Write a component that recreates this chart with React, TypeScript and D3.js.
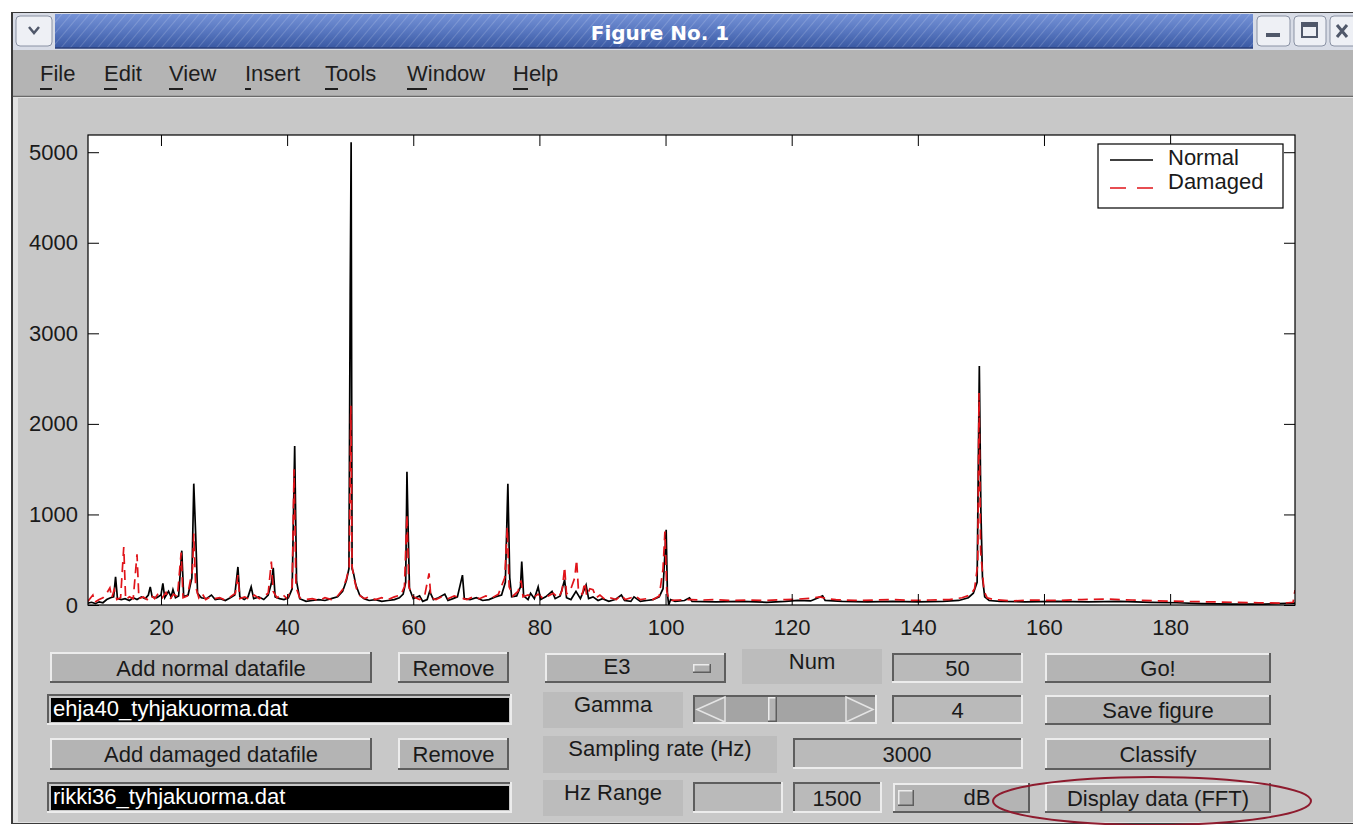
import { useEffect, useRef } from "react";
import * as d3 from "d3";

// ---- chart data ----
const seriesNames = ["Normal", "Damaged"];
const xTicks = [20, 40, 60, 80, 100, 120, 140, 160, 180];
const yTicks = [0, 1000, 2000, 3000, 4000, 5000];
const xDomain: [number, number] = [8.43, 199.8];
const yDomain: [number, number] = [0, 5190];

// [Hz, amplitude]
const normal: [number, number][] = [
  [8.4, 20], [9.0, 30], [9.6, 15], [10.2, 35], [10.8, 25], [11.4, 60], [12.0, 80], [12.5, 90],
  [12.8, 310], [13.1, 70], [13.7, 60], [14.3, 70], [15.0, 50], [15.6, 80], [16.2, 60], [16.9, 90],
  [17.5, 70], [18.0, 110], [18.3, 200], [18.6, 90], [19.3, 80], [20.0, 110], [20.3, 240], [20.6, 80],
  [21.2, 150], [21.6, 90], [21.9, 170], [22.3, 80], [22.8, 100], [23.3, 600], [23.6, 90], [24.3, 110],
  [24.9, 300], [25.2, 1340], [25.5, 780], [25.8, 130], [26.4, 80], [27.2, 70], [28.0, 110], [28.6, 60],
  [29.4, 70], [30.2, 50], [31.0, 80], [31.7, 110], [32.2, 420], [32.5, 90], [33.2, 60], [33.8, 90],
  [34.3, 200], [34.7, 70], [35.5, 90], [36.3, 60], [37.0, 110], [37.5, 240], [37.8, 410], [38.1, 90],
  [38.8, 70], [39.5, 60], [40.2, 80], [40.8, 180], [41.2, 1755], [41.5, 260], [42.0, 70], [43.0, 40],
  [44.0, 50], [45.0, 60], [46.0, 50], [47.0, 70], [48.0, 90], [48.8, 150], [49.4, 270], [49.8, 400],
  [50.0, 3420], [50.15, 5110], [50.3, 400], [50.5, 360], [50.9, 220], [51.5, 110], [52.2, 70], [53.0, 50],
  [54.0, 60], [55.0, 40], [56.0, 50], [57.0, 60], [57.8, 80], [58.4, 120], [58.8, 250], [59.0, 1470],
  [59.15, 960], [59.4, 180], [60.0, 70], [61.0, 100], [61.5, 40], [62.2, 60], [62.6, 150], [63.2, 60],
  [64.0, 80], [65.0, 120], [65.5, 50], [66.3, 70], [67.0, 90], [67.8, 330], [68.1, 70], [69.0, 60],
  [70.0, 80], [71.0, 50], [72.0, 60], [73.0, 90], [74.0, 110], [74.6, 250], [75.0, 1340], [75.3, 300],
  [75.6, 90], [76.4, 100], [77.0, 200], [77.2, 480], [77.5, 100], [78.2, 60], [78.6, 130], [79.2, 70],
  [79.8, 200], [80.2, 60], [81.0, 90], [82.0, 150], [82.5, 70], [83.3, 100], [84.0, 280], [84.3, 80],
  [85.0, 60], [85.8, 150], [86.5, 70], [87.4, 220], [87.8, 70], [88.5, 90], [89.3, 50], [90.0, 70],
  [91.0, 40], [92.0, 60], [93.0, 110], [93.5, 50], [94.5, 40], [95.0, 90], [96.0, 40], [97.0, 50],
  [98.0, 60], [99.0, 90], [99.6, 180], [100.1, 830], [100.3, 120], [100.5, 0], [100.8, 60], [101.5, 40],
  [103.0, 50], [103.8, 80], [104.2, 40], [108, 35], [112, 40], [116, 30], [119, 40], [121, 50],
  [123, 45], [124.9, 100], [125.3, 50], [128, 40], [132, 35], [136, 40], [140, 35], [144, 40],
  [146.5, 50], [148.0, 80], [148.8, 130], [149.4, 250], [149.75, 2640], [150.0, 1030], [150.25, 300], [150.6, 90],
  [151.3, 50], [153, 40], [157, 35], [162, 40], [167, 35], [172, 40], [177, 30], [181, 25],
  [185, 15], [190, 10], [195, 10], [199.8, 20],
];

const damaged: [number, number][] = [
  [8.4, 40], [9.2, 110], [9.5, 30], [10.2, 60], [10.8, 80], [11.4, 130], [11.9, 190], [12.2, 80],
  [12.6, 170], [13.0, 60], [13.6, 80], [14.1, 640], [14.4, 60], [15.0, 90], [15.6, 70], [16.2, 560],
  [16.5, 70], [17.2, 90], [17.8, 60], [18.4, 110], [19.0, 70], [19.6, 130], [20.2, 80], [20.8, 140],
  [21.4, 60], [22.0, 120], [22.6, 90], [23.2, 580], [23.5, 80], [24.2, 100], [25.0, 400], [25.2, 790],
  [25.5, 200], [26.0, 80], [26.5, 130], [27.1, 60], [27.8, 90], [28.5, 70], [29.3, 80], [30.0, 60],
  [31.0, 90], [31.8, 130], [32.2, 330], [32.5, 70], [33.3, 90], [34.0, 60], [34.8, 110], [35.6, 70],
  [36.4, 100], [37.0, 130], [37.5, 480], [37.8, 150], [38.4, 80], [39.2, 120], [40.0, 70], [40.8, 200],
  [41.1, 1500], [41.4, 200], [42.0, 80], [43.0, 60], [44.0, 70], [45.0, 50], [46.0, 80], [47.0, 60],
  [48.0, 100], [48.8, 170], [49.4, 290], [49.85, 420], [50.1, 2200], [50.3, 430], [50.6, 300], [51.0, 180],
  [51.6, 100], [52.3, 70], [53.0, 90], [54.0, 60], [55.0, 80], [56.0, 60], [57.0, 90], [58.0, 110],
  [58.6, 200], [59.0, 1000], [59.3, 200], [60.0, 90], [61.0, 60], [61.8, 100], [62.5, 350], [62.8, 80],
  [63.6, 60], [64.5, 90], [65.5, 70], [66.5, 100], [67.5, 80], [68.5, 60], [69.5, 90], [70.5, 70],
  [71.5, 100], [72.5, 80], [73.5, 120], [74.5, 300], [74.9, 860], [75.2, 200], [75.8, 100], [76.6, 150],
  [77.1, 270], [77.4, 90], [78.2, 110], [79.0, 80], [79.8, 120], [80.6, 70], [81.4, 100], [82.2, 130],
  [83.0, 80], [83.6, 160], [84.0, 420], [84.3, 120], [85.0, 180], [85.6, 300], [85.9, 500], [86.2, 150],
  [86.8, 120], [87.2, 250], [87.5, 100], [88.0, 180], [88.5, 170], [89.0, 80], [89.6, 110], [90.4, 60],
  [91.2, 80], [92.2, 60], [93.0, 110], [93.6, 60], [94.5, 80], [95.2, 100], [96.0, 60], [97.0, 70],
  [98.0, 60], [99.0, 100], [99.6, 400], [99.9, 810], [100.2, 150], [100.6, 50], [102, 55], [104, 60],
  [106, 55], [108, 60], [110, 50], [113, 55], [116, 50], [119, 60], [121, 65], [123, 75],
  [124.5, 90], [125.5, 70], [127, 60], [130, 50], [133, 55], [136, 60], [139, 50], [142, 55],
  [145, 60], [147.0, 80], [148.3, 110], [149.0, 180], [149.5, 450], [149.7, 2340], [149.95, 600], [150.2, 400],
  [150.5, 150], [151.0, 80], [152, 60], [155, 45], [158, 55], [162, 50], [166, 60], [170, 65],
  [174, 55], [178, 45], [182, 40], [186, 35], [190, 30], [194, 25], [198, 20], [199.5, 30], [199.8, 165],
];

const menuItems = ["File", "Edit", "View", "Insert", "Tools", "Window", "Help"];
const menuX = [40, 104, 169, 245, 325, 407, 513];
const menuUnder = [12, 13, 14, 6, 13, 20, 15];

const font = "'Liberation Sans', Arial, Helvetica, sans-serif";
const BG = "#c8c8c8";
const BTN = "#b4b4b4";

// plot box
const L = 88, R = 1295, T = 135, B = 605;

function Spectrum() {
  const ref = useRef<SVGGElement>(null);

  useEffect(() => {
    const g = d3.select(ref.current);
    g.selectAll("*").remove();

    const x = d3.scaleLinear().domain(xDomain).range([L, R]);
    const y = d3.scaleLinear().domain(yDomain).range([B, T]);

    g.append("rect")
      .attr("x", L).attr("y", T).attr("width", R - L).attr("height", B - T)
      .attr("fill", "#fff");

    g.append("clipPath").attr("id", "plotclip")
      .append("rect").attr("x", L).attr("y", T).attr("width", R - L).attr("height", B - T);

    const line = d3.line<[number, number]>().x(d => x(d[0])).y(d => y(d[1]));

    g.append("path")
      .datum(normal)
      .attr("clip-path", "url(#plotclip)")
      .attr("d", line)
      .attr("fill", "none")
      .attr("stroke", "#000")
      .attr("stroke-width", 1.7);

    g.append("path")
      .datum(damaged)
      .attr("clip-path", "url(#plotclip)")
      .attr("d", line)
      .attr("fill", "none")
      .attr("stroke", "#e0141a")
      .attr("stroke-width", 1.7)
      .attr("stroke-dasharray", "10,6");

    const styleAxis = (ax: any) => {
      ax.attr("font-size", 22).attr("font-family", font);
      ax.select(".domain").remove();
      ax.selectAll("line").attr("stroke", "#000");
      ax.selectAll("text").attr("fill", "#1a1a1a");
    };
    const fmt = d3.format("d");

    g.append("g").attr("transform", `translate(0,${B})`)
      .call(d3.axisBottom(x).tickValues(xTicks).tickFormat(fmt as any).tickSizeInner(-11).tickSizeOuter(0).tickPadding(14))
      .call(styleAxis);
    g.append("g").attr("transform", `translate(0,${T})`)
      .call(d3.axisTop(x).tickValues(xTicks).tickSizeInner(-11).tickSizeOuter(0).tickFormat(() => ""))
      .call(styleAxis);
    g.append("g").attr("transform", `translate(${L},0)`)
      .call(d3.axisLeft(y).tickValues(yTicks).tickFormat(fmt as any).tickSizeInner(-11).tickSizeOuter(0).tickPadding(10))
      .call(styleAxis);
    g.append("g").attr("transform", `translate(${R},0)`)
      .call(d3.axisRight(y).tickValues(yTicks).tickSizeInner(-11).tickSizeOuter(0).tickFormat(() => ""))
      .call(styleAxis);

    g.append("rect")
      .attr("x", L).attr("y", T).attr("width", R - L).attr("height", B - T)
      .attr("fill", "none").attr("stroke", "#000").attr("stroke-width", 1.2);

    // legend
    const lg = g.append("g").attr("transform", "translate(1098,144)");
    lg.append("rect").attr("width", 185).attr("height", 64)
      .attr("fill", "#fff").attr("stroke", "#000").attr("stroke-width", 1.2);
    seriesNames.forEach((name, i) => {
      const ly = 16 + i * 28;
      lg.append("line")
        .attr("x1", 12).attr("x2", 55).attr("y1", ly).attr("y2", ly)
        .attr("stroke", i === 0 ? "#000" : "#e0141a")
        .attr("stroke-width", 1.6)
        .attr("stroke-dasharray", i === 0 ? null : "16,11");
      lg.append("text")
        .attr("x", 70).attr("y", ly + 5 - i * 4)
        .attr("font-size", 22).attr("font-family", font).attr("fill", "#1a1a1a")
        .text(name);
    });
  }, []);

  return <g ref={ref} />;
}

// ---- GUI chrome helpers ----
function Bevel({ x, y, w, h, fill, up = true, t = 2 }: any) {
  const light = "#ececec", dark = "#5e5e5e";
  return (
    <g>
      <rect x={x} y={y} width={w} height={h} fill={fill} />
      <path d={`M${x + t / 2},${y + h} V${y + t / 2} H${x + w}`} fill="none" stroke={up ? light : dark} strokeWidth={t} />
      <path d={`M${x + w - t / 2},${y} V${y + h - t / 2} H${x}`} fill="none" stroke={up ? dark : light} strokeWidth={t} />
    </g>
  );
}

function Label({ x, y, text, anchor = "middle", color = "#1a1a1a", size = 22 }: any) {
  return (
    <text x={x} y={y} textAnchor={anchor} fontFamily={font} fontSize={size} fill={color}>{text}</text>
  );
}

function Button({ x, y, w, h, text }: any) {
  return (
    <g>
      <Bevel x={x} y={y} w={w} h={h} fill={BTN} />
      <Label x={x + w / 2} y={y + h / 2 + 8} text={text} />
    </g>
  );
}

function Edit({ x, y, w, h, text, tx }: any) {
  return (
    <g>
      <Bevel x={x} y={y} w={w} h={h} fill="#bababa" up={false} />
      <Label x={tx ?? x + w / 2} y={y + h / 2 + 8} text={text} />
    </g>
  );
}

function Static({ x, y, w, h, text, ty }: any) {
  return (
    <g>
      <rect x={x} y={y} width={w} height={h} fill="#bcbcbc" />
      <Label x={x + w / 2} y={ty} text={text} />
    </g>
  );
}

function FileBox({ x, y, w, h, text }: any) {
  return (
    <g>
      <Bevel x={x} y={y} w={w} h={h} fill={BG} up={false} />
      <rect x={x + 4} y={y + 4} width={w - 7} height={h - 7} fill="#000" />
      <Label x={x + 6} y={y + h / 2 + 6} anchor="start" color="#fff" text={text} />
    </g>
  );
}

export default function App() {
  return (
    <svg width={1353} height={825} style={{ position: "absolute", left: 0, top: 0, display: "block" }}>
      <defs>
        <linearGradient id="tbar" x1="0" y1="0" x2="0" y2="1">
          <stop offset="0" stopColor="#7592d6" />
          <stop offset="0.5" stopColor="#5877c0" />
          <stop offset="1" stopColor="#3a59a3" />
        </linearGradient>
        <pattern id="stripes" width="7" height="7" patternUnits="userSpaceOnUse" patternTransform="rotate(40)">
          <line x1="0" y1="0" x2="0" y2="7" stroke="rgba(255,255,255,0.16)" strokeWidth="2" />
        </pattern>
      </defs>

      <rect width={1353} height={825} fill="#fff" />

      {/* window frame */}
      <rect x={11} y={12} width={1350} height={812} fill="#3a3a3a" />
      {/* title bar */}
      <rect x={13} y={13} width={1345} height={37} fill="#d8dce6" />
      <rect x={55} y={14} width={1198} height={34} fill="url(#tbar)" />
      <rect x={55} y={14} width={1198} height={34} fill="url(#stripes)" />
      <line x1={55} x2={1253} y1={48} y2={48} stroke="#2b3f78" strokeWidth={1.5} />
      <text x={660} y={40} textAnchor="middle" fontFamily="'DejaVu Sans', Verdana, sans-serif"
        fontWeight="bold" fontSize={20} fill="#fff">Figure No. 1</text>

      {/* title bar buttons */}
      <rect x={16} y={16} width={36} height={30} rx={4} fill="#eef0f5" stroke="#8a92a4" />
      <path d="M29,27 L34,33 L39,27" fill="none" stroke="#50586a" strokeWidth={2.5} />
      <rect x={1257} y={16} width={33} height={30} rx={4} fill="#eef0f5" stroke="#8a92a4" />
      <rect x={1266} y={33} width={14} height={4} fill="#50586a" />
      <rect x={1294} y={16} width={32} height={30} rx={4} fill="#eef0f5" stroke="#8a92a4" />
      <rect x={1302} y={23} width={15} height={14} fill="none" stroke="#50586a" strokeWidth={2} />
      <rect x={1302} y={23} width={15} height={4} fill="#50586a" />
      <rect x={1330} y={16} width={30} height={30} rx={4} fill="#eef0f5" stroke="#8a92a4" />
      <path d="M1337,25 L1347,37 M1347,25 L1337,37" stroke="#50586a" strokeWidth={3} />

      {/* menu bar */}
      <rect x={13} y={50} width={1345} height={46} fill="#b4b4b4" />
      <line x1={13} x2={1353} y1={96.5} y2={96.5} stroke="#6a6a6a" strokeWidth={1.5} />
      {menuItems.map((m, i) => (
        <g key={m}>
          <text x={menuX[i]} y={81} fontFamily={font} fontSize={22} fill="#1e1e1e">{m}</text>
          <rect x={menuX[i]} y={88} width={menuUnder[i]} height={2} fill="#1e1e1e" />
        </g>
      ))}

      {/* figure area */}
      <rect x={13} y={97} width={1345} height={726} fill="#e2e2e2" />
      <rect x={18} y={98} width={1340} height={724} fill={BG} />

      <Spectrum />

      {/* left column */}
      <Button x={50} y={652} w={322} h={31} text="Add normal datafile" />
      <Button x={398} y={652} w={111} h={31} text="Remove" />
      <FileBox x={47} y={694} w={465} h={31} text="ehja40_tyhjakuorma.dat" />
      <Button x={50} y={738} w={322} h={32} text="Add damaged datafile" />
      <Button x={398} y={738} w={111} h={32} text="Remove" />
      <FileBox x={47} y={782} w={465} h={31} text="rikki36_tyhjakuorma.dat" />

      {/* middle column */}
      <Bevel x={545} y={653} w={181} h={30} fill={BTN} />
      <Label x={617} y={674} text="E3" />
      <Bevel x={693} y={664} w={18} h={9} fill="#b0b0b0" t={1.5} />
      <Static x={742} y={649} w={140} h={35} text="Num" ty={669} />
      <Edit x={892} y={653} w={131} h={30} text="50" />

      <Static x={543} y={692} w={140} h={36} text="Gamma" ty={712} />
      <Bevel x={693} y={695} w={184} h={29} fill="#a4a4a4" up={false} />
      <polygon points="697,709.5 725,697 725,722" fill="#a8a8a8" stroke="#e4e4e4" strokeWidth={1.5} />
      <polygon points="873,709.5 846,697 846,722" fill="#a8a8a8" stroke="#e4e4e4" strokeWidth={1.5} />
      <Bevel x={768} y={697} w={9} h={25} fill="#b4b4b4" t={1.5} />
      <Edit x={892} y={695} w={131} h={29} text="4" />

      <Static x={543} y={736} w={234} h={37} text="Sampling rate (Hz)" ty={756} />
      <Edit x={793} y={738} w={230} h={31} text="3000" tx={907} />

      <Static x={543} y={780} w={140} h={36} text="Hz Range" ty={800} />
      <Edit x={693} y={782} w={90} h={31} text="" />
      <Edit x={793} y={782} w={89} h={31} text="1500" tx={837} />
      <Bevel x={893} y={783} w={137} h={30} fill={BTN} />
      <Bevel x={898} y={790} w={16} h={16} fill="#b0b0b0" t={1.5} />
      <Label x={977} y={805} text="dB" />

      {/* right column */}
      <Button x={1045} y={653} w={226} h={30} text="Go!" />
      <Button x={1045} y={695} w={226} h={30} text="Save figure" />
      <Button x={1045} y={738} w={226} h={32} text="Classify" />
      <Button x={1045} y={783} w={226} h={30} text="Display data (FFT)" />

      {/* annotation ellipse */}
      <ellipse cx={1152} cy={801} rx={159} ry={24} fill="none" stroke="#8e1b2e" strokeWidth={2} />
    </svg>
  );
}
